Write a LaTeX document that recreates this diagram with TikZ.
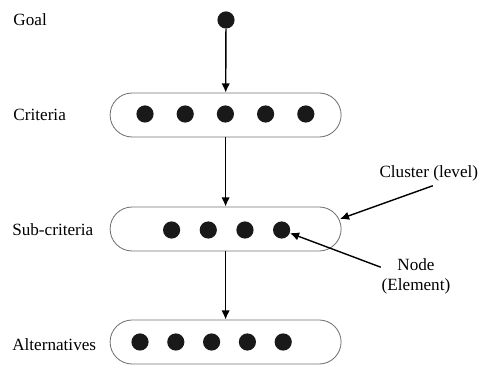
\documentclass[tikz,border=0pt]{standalone}
\usepackage{fontspec}
\setmainfont{Liberation Serif}
\usetikzlibrary{arrows.meta,positioning}
\tikzset{
  elem/.style={circle,fill=black!90,minimum size=0.43cm,inner sep=0pt},
  cluster/.style={draw=black!55,line width=0.6pt,rounded corners=0.55cm,
    minimum width=5.775cm,minimum height=1.1cm,inner sep=0pt},
  lbl/.style={anchor=west,inner sep=0pt},
  >={Latex[length=6.5pt,width=6pt]}
}
\begin{document}
\begin{tikzpicture}[font=\fontsize{12.2}{14.2}\selectfont]
\useasboundingbox (0,0) rectangle (11.975,9.125);
% levels
\node (goal) [elem] at (5.65,8.625) {};
\node (crit) [cluster] at (5.64,6.25) {};
\node (sub) [cluster] at (5.64,3.4) {};
\node (alt) [cluster] at (5.64,0.575) {};
%
\foreach \i in {0,...,4}
  \node (c\i) [elem] at (3.625+1.005*\i,6.275) {};
\foreach \i in {0,...,3}
  \node (s\i) [elem] at (4.29+0.917*\i,3.375) {};
\foreach \i in {0,...,4}
  \node (a\i) [elem] at (3.5+0.895*\i,0.575) {};
% labels
\node (lgoal) [lbl] at (0.33,8.625) {Goal};
\node (lcrit) [lbl] at (0.33,6.25) {Criteria};
\node (lsub) [lbl] at (0.3,3.375) {Sub-criteria};
\node (lalt) [lbl] at (0.3,0.5) {Alternatives};
\node (clabel) at (10.72,4.8) {Cluster (level)};
\node (nlabel) [align=center] at (10.4,2.225) {Node\\(Element)};
%
\path[->,line width=1pt] (goal) edge (crit);
\path[->,line width=1pt] (crit) edge (sub);
\path[->,line width=1pt] (sub) edge (alt);
\path[->,line width=1pt] ([xshift=0.1cm]clabel.south) edge ([shift={(-0.04,0.25)}]sub.east);
\path[->,line width=1pt] ([shift={(0.1,0.22)}]nlabel.west) edge (s3);
\end{tikzpicture}
\end{document}
